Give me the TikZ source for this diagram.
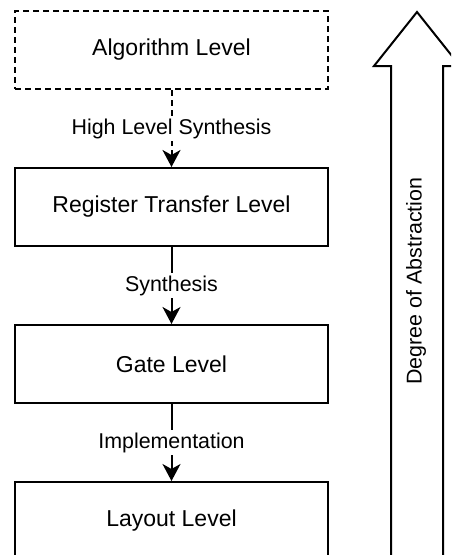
\documentclass[tikz,border=0pt]{standalone}
\usepackage{fontspec}
\setmainfont{Liberation Sans}
\usetikzlibrary{arrows.meta}
\begin{document}
\begin{tikzpicture}[x=1pt,y=-1pt,
  levelbox/.style={draw, line width=2pt, minimum width=313pt, minimum height=78pt,
    inner sep=0pt, font=\fontsize{23}{27}\selectfont},
  conn/.style={line width=2pt, -{Stealth[length=17pt,width=18pt,inset=5pt]}},
  lbl/.style={fill=white, inner sep=3pt, font=\fontsize{21.4}{25}\selectfont},
  bigarrow/.style={draw, line width=2pt, line join=miter}]
  \useasboundingbox (0,0) rectangle (451,555);
  \clip (0,0) rectangle (451,555);

  % abstraction levels
  \node[levelbox, dash pattern=on 6pt off 4pt] (alg) at (171.5,50) {Algorithm Level};
  \node[levelbox] (rtl) at (171.5,207) {Register Transfer Level};
  \node[levelbox] (gate) at (171.5,364) {Gate Level};
  \node[levelbox] (lay) at (171.5,521) {Layout Level};

  % transformation steps
  \draw[conn, dash pattern=on 6pt off 4pt] (alg) -- node[lbl] {High Level Synthesis} (rtl);
  \draw[conn] (rtl) -- node[lbl] {Synthesis} (gate);
  \draw[conn] (gate) -- node[lbl] {Implementation} (lay);

  % abstraction arrow
  \draw[bigarrow] (417,12) -- (460,66) -- (443,66) -- (443,565)
    -- (391,565) -- (391,66) -- (374,66) -- cycle;
  \node[rotate=90, font=\fontsize{21.4}{25}\selectfont] (deg) at (416,281) {Degree of Abstraction};
\end{tikzpicture}
\end{document}
